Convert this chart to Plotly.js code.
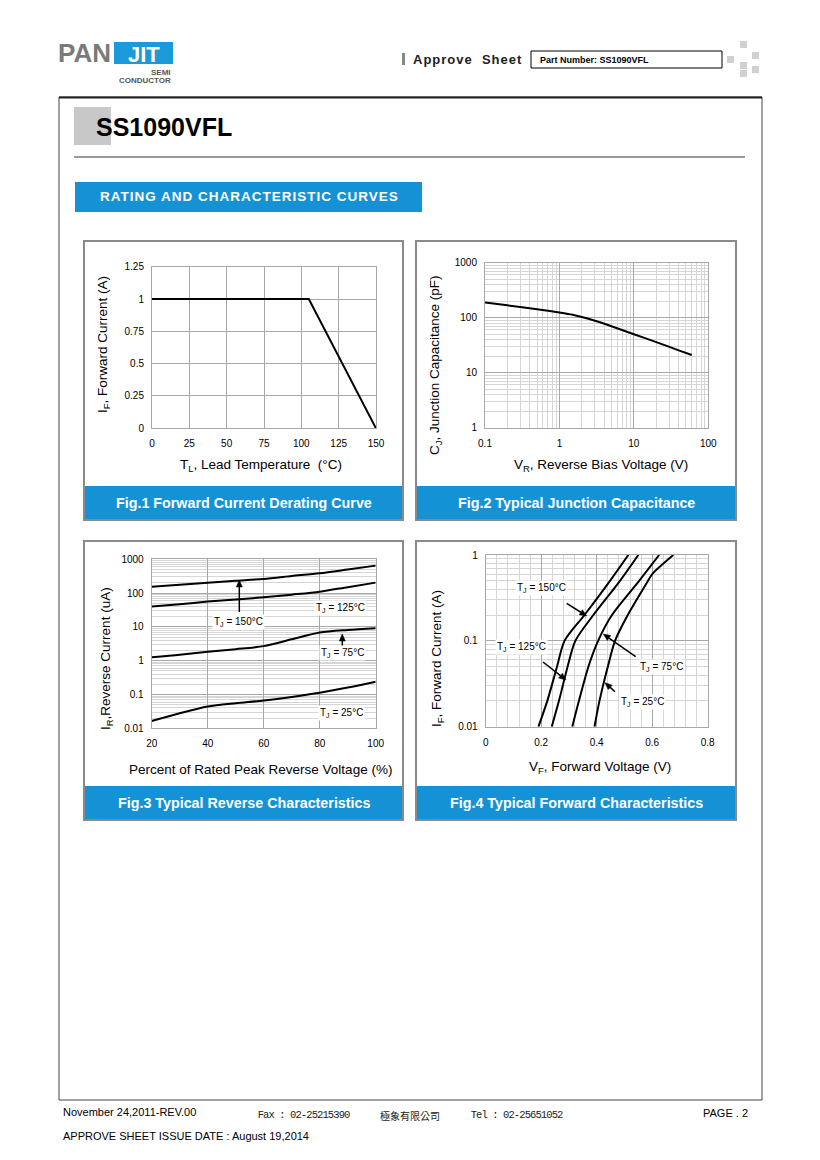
<!DOCTYPE html>
<html><head><meta charset="utf-8">
<script src="https://cdn.plot.ly/plotly-3.0.1.min.js"></script>
<style>html,body{margin:0;padding:0;background:#fff}#page{width:820px;height:1160px}</style>
</head><body><div id="page"></div>
<script>
// ---- Data ----
const fig1Temp = [0, 105, 150];
const fig1Current = [1, 1, 0];

const fig2Voltage = [0.1, 0.2, 0.5, 1, 1.5, 2, 3, 5, 10, 20, 40, 60];
const fig2Cap = [190, 168, 143, 124, 113, 103, 88, 70, 50, 36, 25.5, 21];

const fig3Percent = [20, 30, 40, 50, 60, 70, 80, 90, 100];
const fig3Tj150 = [155, 178, 204, 232, 263, 320, 387, 500, 650];
const fig3Tj125 = [40, 47, 56, 65, 75, 90, 110, 150, 204];
const fig3Tj75 = [1.26, 1.5, 1.85, 2.2, 2.7, 4.3, 6.8, 8.1, 9.1];
const fig3Tj25 = [0.0165, 0.028, 0.044, 0.055, 0.066, 0.085, 0.113, 0.16, 0.24];

const fig4Current = [0.01, 0.02, 0.05, 0.1, 0.2, 0.5, 1];
const fig4Tj150 = [0.19, 0.222, 0.257, 0.284, 0.356, 0.448, 0.514];
const fig4Tj125 = [0.238, 0.264, 0.295, 0.323, 0.388, 0.484, 0.55];
const fig4Tj75 = [0.312, 0.336, 0.37, 0.405, 0.455, 0.553, 0.625];
const fig4Current25 = [0.01, 0.02, 0.05, 0.1, 0.2, 0.5, 0.6, 1];
const fig4Tj25 = [0.392, 0.41, 0.44, 0.466, 0.512, 0.585, 0.60, 0.676];

const fig1XTicks = [0, 25, 50, 75, 100, 125, 150];
const fig1YTicks = [0, 0.25, 0.5, 0.75, 1, 1.25];
const fig2XTicks = [0.1, 1, 10, 100];
const fig2YTicks = [1, 10, 100, 1000];
const fig3XTicks = [20, 40, 60, 80, 100];
const fig3YTicks = [0.01, 0.1, 1, 10, 100, 1000];
const fig4XTicks = [0, 0.2, 0.4, 0.6, 0.8];
const fig4YTicks = [0.01, 0.1, 1];

// ---- Layout helpers ----
const W = 820, H = 1160;
const X = p => p / W, Y = p => 1 - p / H;
const FONT = 'Liberation Sans, Arial, sans-serif';
const BLUE = '#1592d6';
const MAJ = '#a8a8a8', MIN = '#d6d6d6';

const line = {color: '#000', width: 2};
const sline = Object.assign({shape: 'spline', smoothing: 0.8}, line);
const traces = [
  {x: fig1Temp, y: fig1Current, xaxis: 'x', yaxis: 'y', mode: 'lines', line: line},
  {x: fig2Voltage, y: fig2Cap, xaxis: 'x2', yaxis: 'y2', mode: 'lines', line: Object.assign({shape: 'spline', smoothing: 0.5}, line)},
  {x: fig3Percent, y: fig3Tj150, xaxis: 'x3', yaxis: 'y3', mode: 'lines', line: sline},
  {x: fig3Percent, y: fig3Tj125, xaxis: 'x3', yaxis: 'y3', mode: 'lines', line: sline},
  {x: fig3Percent, y: fig3Tj75, xaxis: 'x3', yaxis: 'y3', mode: 'lines', line: sline},
  {x: fig3Percent, y: fig3Tj25, xaxis: 'x3', yaxis: 'y3', mode: 'lines', line: sline},
  {x: fig4Tj150, y: fig4Current, xaxis: 'x4', yaxis: 'y4', mode: 'lines', line: sline},
  {x: fig4Tj125, y: fig4Current, xaxis: 'x4', yaxis: 'y4', mode: 'lines', line: sline},
  {x: fig4Tj75, y: fig4Current, xaxis: 'x4', yaxis: 'y4', mode: 'lines', line: sline},
  {x: fig4Tj25, y: fig4Current25, xaxis: 'x4', yaxis: 'y4', mode: 'lines', line: sline}
];

function ax(dom, extra, isX) {
  return Object.assign({
    domain: dom, showgrid: true, gridcolor: MAJ, gridwidth: 1, zeroline: false,
    showline: true, linecolor: MAJ, linewidth: 1, mirror: true, ticks: '',
    ticklabelstandoff: isX ? 6 : 5,
    tickfont: {family: FONT, size: 10, color: '#000'}, fixedrange: true
  }, extra);
}
const labels = arr => arr.map(v => String(v));
const minorLog = {showgrid: true, gridcolor: MIN, dtick: 'D1', ticks: ''};

const layout = {
  width: W, height: H, margin: {l: 0, r: 0, t: 0, b: 0},
  paper_bgcolor: '#fff', plot_bgcolor: 'rgba(0,0,0,0)', showlegend: false,
  font: {family: FONT, color: '#000'},
  xaxis: ax([X(152), X(376)], {range: [0, 150], tickmode: 'array', tickvals: fig1XTicks, ticktext: labels(fig1XTicks), anchor: 'y'}, true),
  yaxis: ax([Y(428.3), Y(266.7)], {range: [0, 1.25], tickmode: 'array', tickvals: fig1YTicks, ticktext: labels(fig1YTicks), anchor: 'x'}),
  xaxis2: ax([X(485), X(708.3)], {type: 'log', range: [-1, 2], tickmode: 'array', tickvals: fig2XTicks, ticktext: labels(fig2XTicks), anchor: 'y2', minor: minorLog}, true),
  yaxis2: ax([Y(427.7), Y(262.7)], {type: 'log', range: [0, 3], tickmode: 'array', tickvals: fig2YTicks, ticktext: labels(fig2YTicks), anchor: 'x2', minor: minorLog}),
  xaxis3: ax([X(151.7), X(375.7)], {range: [20, 100], tickmode: 'array', tickvals: fig3XTicks, ticktext: labels(fig3XTicks), anchor: 'y3'}, true),
  yaxis3: ax([Y(728.3), Y(559.3)], {type: 'log', range: [-2, 3], tickmode: 'array', tickvals: fig3YTicks, ticktext: labels(fig3YTicks), anchor: 'x3', minor: minorLog}),
  xaxis4: ax([X(485.7), X(707.7)], {range: [0, 0.8], tickmode: 'array', tickvals: fig4XTicks, ticktext: labels(fig4XTicks), anchor: 'y4',
    minor: {showgrid: true, gridcolor: MIN, dtick: 0.04, tick0: 0, ticks: ''}}, true),
  yaxis4: ax([Y(726.7), Y(555)], {type: 'log', range: [-2, 0], tickmode: 'array', tickvals: fig4YTicks, ticktext: labels(fig4YTicks), anchor: 'x4', minor: minorLog}),
  shapes: [], annotations: []
};

const S = layout.shapes, A = layout.annotations;
function rect(x0, y0, x1, y1, fill, lineColor, lw, layer) {
  S.push({type: 'rect', xref: 'paper', yref: 'paper', x0: X(x0), x1: X(x1), y0: Y(y1), y1: Y(y0),
    fillcolor: fill || 'rgba(0,0,0,0)', line: {color: lineColor || 'rgba(0,0,0,0)', width: lw || 0}, layer: layer || 'below'});
}
function hline(x0, x1, y, color, w) {
  S.push({type: 'line', xref: 'paper', yref: 'paper', x0: X(x0), x1: X(x1), y0: Y(y), y1: Y(y), line: {color: color, width: w}, layer: 'below'});
}
function txt(x, y, text, size, opts) {
  A.push(Object.assign({xref: 'paper', yref: 'paper', x: X(x), y: Y(y), text: text, showarrow: false,
    xanchor: 'left', yanchor: 'middle', font: {family: FONT, size: size, color: '#000'}}, opts || {}));
}
function arrow(tx, ty, hx, hy) {
  const dx = hx - tx, dy = hy - ty, L = Math.hypot(dx, dy), ux = dx / L, uy = dy / L;
  const hl = 7, hw = 3;
  const bx = hx - ux * hl, by = hy - uy * hl;
  S.push({type: 'line', xref: 'paper', yref: 'paper', x0: X(tx), y0: Y(ty), x1: X(bx), y1: Y(by), line: {color: '#000', width: 1.5}, layer: 'above'});
  const p1 = [bx - uy * hw, by + ux * hw], p2 = [bx + uy * hw, by - ux * hw];
  S.push({type: 'path', xref: 'paper', yref: 'paper', layer: 'above',
    path: 'M' + X(hx) + ',' + Y(hy) + ' L' + X(p1[0]) + ',' + Y(p1[1]) + ' L' + X(p2[0]) + ',' + Y(p2[1]) + ' Z',
    fillcolor: '#000', line: {color: '#000', width: 0.5}});
}

// ---- Header ----
txt(56, 53, '<b>PAN</b>', 26, {font: {family: FONT, size: 26, color: '#7a7a7a'}});
rect(114, 42, 173, 64, '#1a9ad9');
txt(143.5, 54, '<b>JIT</b>', 22, {xanchor: 'center', font: {family: FONT, size: 22, color: '#fff'}});
txt(173, 72, '<b>SEMI</b>', 8, {xanchor: 'right', font: {family: FONT, size: 8, color: '#555'}});
txt(173, 80, '<b>CONDUCTOR</b>', 8, {xanchor: 'right', font: {family: FONT, size: 8, color: '#555'}});
rect(402, 53, 405, 65, '#888');
txt(418, 59, '<b>Approve  Sheet</b>', 13, {font: {family: FONT, size: 13, color: '#222'}});
rect(531, 51, 722, 68, '#fff', '#000', 1);
txt(538, 59.5, '<b>Part Number: SS1090VFL</b>', 9);
[[740,41],[727,56],[752,52],[740,62],[752,66],[740,70]].forEach(p => rect(p[0], p[1], p[0] + 7, p[1] + 7, '#d0d0d0'));

// ---- Frame ----
rect(59, 97, 762, 1100, 'rgba(0,0,0,0)', '#444', 1);
hline(59, 762, 97.5, '#222', 2);
rect(74, 107, 111, 145, '#c8c8c8');
txt(94, 127, '<b>SS1090VFL</b>', 25);
hline(74, 745, 157, '#333', 1);
rect(75, 182, 422, 212, BLUE);
txt(249, 197, '<b>RATING AND CHARACTERISTIC CURVES</b>', 13.5, {xanchor: 'center', font: {family: FONT, size: 13.5, color: '#fff'}});

// ---- Panels ----
const panels = [
  [84, 241, 403, 520, 'Fig.1 Forward Current Derating Curve'],
  [416, 241, 736, 520, 'Fig.2 Typical Junction Capacitance'],
  [84, 541, 403, 820, 'Fig.3 Typical Reverse Characteristics'],
  [416, 541, 736, 820, 'Fig.4 Typical Forward Characteristics']
];
panels.forEach(p => {
  rect(p[0], p[1], p[2], p[3], '#fff', '#8a8a8a', 2);
  rect(p[0] + 1, p[3] - 34, p[2] - 1, p[3] - 1, BLUE);
  txt((p[0] + p[2]) / 2, p[3] - 17.5, '<b>' + p[4] + '</b>', 14.3, {xanchor: 'center', font: {family: FONT, size: 14.3, color: '#fff'}});
});

// ---- Axis titles ----
const tf = 13.5;
txt(261, 465, 'T<sub>L</sub>, Lead Temperature  (°C)', tf, {xanchor: 'center'});
txt(103, 345, 'I<sub>F</sub>, Forward Current (A)', tf, {xanchor: 'center', textangle: -90});
txt(601, 465, 'V<sub>R</sub>, Reverse Bias Voltage (V)', tf, {xanchor: 'center'});
txt(435, 365, 'C<sub>J</sub>, Junction Capacitance (pF)', tf, {xanchor: 'center', textangle: -90});
txt(260, 769, 'Percent of Rated Peak Reverse Voltage (%)', tf, {xanchor: 'center'});
txt(106, 659, 'I<sub>R</sub>,Reverse Current (uA)', tf, {xanchor: 'center', textangle: -90});
txt(600, 767, 'V<sub>F</sub>, Forward Voltage (V)', tf, {xanchor: 'center'});
txt(437, 659, 'I<sub>F</sub>, Forward Current (A)', tf, {xanchor: 'center', textangle: -90});

// ---- Curve labels ----
const lab = (x, y, t) => txt(x, y, t, 10, {xanchor: 'center', bgcolor: '#fff'});
lab(239, 622, 'T<sub>J</sub> = 150°C');
arrow(239.3, 612, 239.3, 580);
lab(340, 608, 'T<sub>J</sub> = 125°C');
lab(342, 653, 'T<sub>J</sub> = 75°C');
arrow(342.3, 648, 342.3, 634);
lab(341, 712.5, 'T<sub>J</sub> = 25°C');

lab(541, 588, 'T<sub>J</sub> = 150°C');
arrow(566.7, 603.3, 586.7, 616);
lab(521, 647, 'T<sub>J</sub> = 125°C');
arrow(543, 662, 566, 680);
lab(661, 667, 'T<sub>J</sub> = 75°C');
arrow(635.7, 656.7, 603.3, 634);
lab(642, 702, 'T<sub>J</sub> = 25°C');
arrow(615, 691.7, 605, 682.7);

// ---- Footer ----
const mono = {family: 'Liberation Mono, monospace', size: 10.5, color: '#222'};
txt(61, 1112, 'November 24,2011-REV.00', 11);
txt(248, 1115, 'Fax : 02-25215390', 10.5, {font: mono});
txt(378, 1115, '極象有限公司', 10, {font: {family: 'Noto Sans CJK TC, sans-serif', size: 10, color: '#222'}});
txt(461, 1115, 'Tel : 02-25651052', 10.5, {font: mono});
txt(750, 1113, 'PAGE . 2', 11, {xanchor: 'right'});
txt(61, 1136, 'APPROVE SHEET ISSUE DATE : August 19,2014', 11);

Plotly.newPlot('page', traces, layout, {staticPlot: true, displayModeBar: false}).then(() => {
  document.querySelectorAll('.annotation-text').forEach(t => {
    const s = t.textContent;
    if (s.indexOf('RATING') === 0) t.style.letterSpacing = '1px';
    if (s.indexOf('Approve') === 0) t.style.letterSpacing = '1px';
    if (s.indexOf('Fax') === 0 || s.indexOf('Tel') === 0) t.style.letterSpacing = '-0.9px';
  });
});
</script></body></html>
